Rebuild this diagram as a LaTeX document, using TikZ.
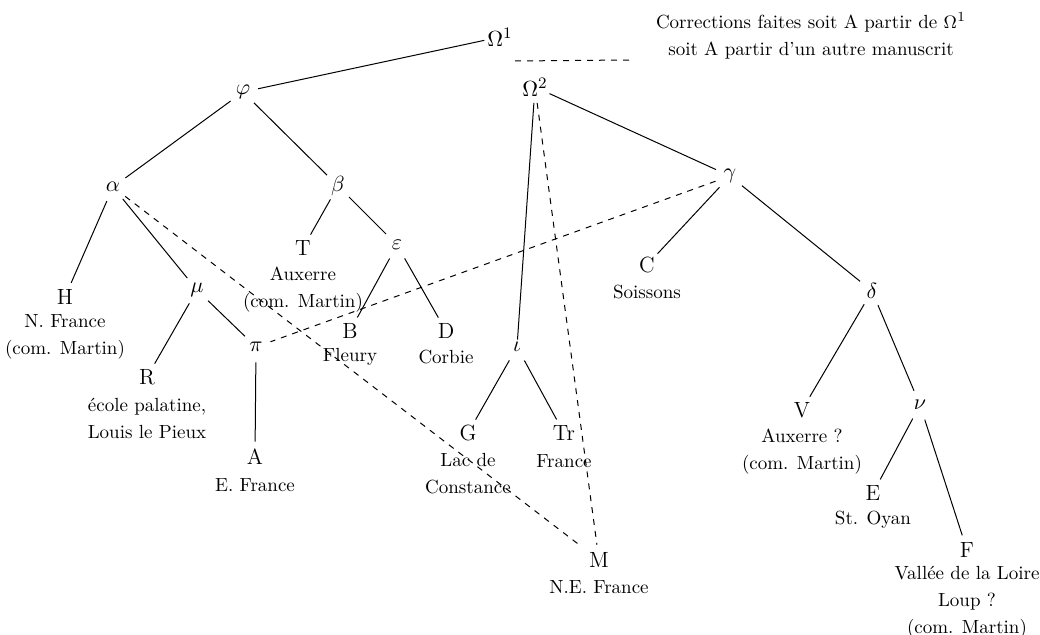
\documentclass[tikz,border=0pt]{standalone}
\begin{document}
\begin{tikzpicture}[x=0.5pt,y=-0.5pt,
  ms/.style={circle,inner sep=0pt,minimum size=15pt,font=\fontsize{11}{13}\selectfont},
  lab/.style={align=center,inner sep=0pt,font=\fontsize{9.5}{13.5}\selectfont},
  ln/.style={line width=0.5pt},
  dl/.style={line width=0.5pt,dashed}]
\fill[white] (0,0) rectangle (1040,635);
\useasboundingbox (0,0) rectangle (1040,635);
% nodes
\node[ms] (O1) at (500,37) {$\Omega^1$};
\node[ms] (O2) at (535,87) {$\Omega^2$};
\node[ms] (phi) at (243,92) {$\varphi$};
\node[ms] (al) at (113,187) {$\alpha$};
\node[ms] (be) at (338,186) {$\beta$};
\node[ms] (ga) at (730,176) {$\gamma$};
\node[ms] (T) at (303,248) {T};
\node[lab] (Tl) at (303,290) {Auxerre\\(com. Martin)};
\node[ms] (ep) at (397,245) {$\varepsilon$};
\node[ms] (H) at (65,297) {H};
\node[lab] (Hl) at (65,337) {N. France\\(com. Martin)};
\node[ms] (mu) at (197,290) {$\mu$};
\node[ms] (pi) at (256,347) {$\pi$};
\node[ms] (B) at (350,331) {B};
\node[lab] (Bl) at (350,357) {Fleury};
\node[ms] (D) at (446,331) {D};
\node[lab] (Dl) at (446,357) {Corbie};
\node[ms] (C) at (647,265) {C};
\node[lab] (Cl) at (647,292) {Soissons};
\node[ms] (de) at (872,291) {$\delta$};
\node[ms] (io) at (517,347) {$\iota$};
\node[ms] (R) at (147,377) {R};
\node[lab] (Rl) at (147,418) {école palatine,\\Louis le Pieux};
\node[ms] (A) at (255,457) {A};
\node[lab] (Al) at (255,485) {E. France};
\node[ms] (G) at (468,433) {G};
\node[lab] (Gl) at (468,474) {Lac de\\Constance};
\node[ms] (Tr) at (564,433) {Tr};
\node[lab] (Trl) at (564,461) {France};
\node[ms] (M) at (599,560) {M};
\node[lab] (Ml) at (599,587) {N.E. France};
\node[ms] (V) at (802,410) {V};
\node[lab] (Vl) at (802,452) {Auxerre ?\\(com. Martin)};
\node[ms] (nu) at (920,405) {$\nu$};
\node[ms] (E) at (873,493) {E};
\node[lab] (El) at (873,520) {St. Oyan};
\node[ms] (F) at (967,550) {F};
\node[lab] (Fl) at (967,602) {Vallée de la Loire\\Loup ?\\(com. Martin)};
\node[lab] (note) at (811,36) {Corrections faites soit A partir de $\Omega^1$\\soit A partir d'un autre manuscrit};
\coordinate (n1) at (515,61);
\coordinate (n2) at (630,60);
% solid edges
\draw[ln] (O1) -- (phi);
\draw[ln] (phi) -- (al);
\draw[ln] (phi) -- (be);
\draw[ln] (al) -- (H);
\draw[ln] (al) -- (mu);
\draw[ln] (mu) -- (R);
\draw[ln] (mu) -- (pi);
\draw[ln] (pi) -- (A);
\draw[ln] (be) -- (T);
\draw[ln] (be) -- (ep);
\draw[ln] (ep) -- (B);
\draw[ln] (ep) -- (D);
\draw[ln] (O2) -- (ga);
\draw[ln,shorten >=-4pt] (O2) -- (io);
\draw[ln] (io) -- (G);
\draw[ln] (io) -- (Tr);
\draw[ln] (ga) -- (C);
\draw[ln] (ga) -- (de);
\draw[ln] (de) -- (V);
\draw[ln] (de) -- (nu);
\draw[ln] (nu) -- (E);
\draw[ln] (nu) -- (F);
% dashed edges
\draw[dl,shorten >=5pt] (al) -- (M);
\draw[dl] (O2) -- (M);
\draw[dl] (ga) -- (pi);
\draw[dl] (n1) -- (n2);
\end{tikzpicture}
\end{document}
